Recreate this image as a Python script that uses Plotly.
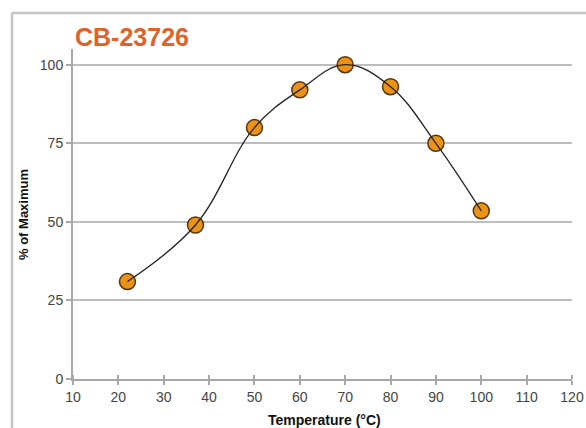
import plotly.graph_objects as go

temperature = [22, 37, 50, 60, 70, 80, 90, 100]
pct_max = [31, 49, 80, 92, 100, 93, 75, 53.5]
x_ticks = [10, 20, 30, 40, 50, 60, 70, 80, 90, 100, 110, 120]
y_ticks = [0, 25, 50, 75, 100]

W, H = 586, 428
L, T = 73, 49
R = W - 572
B = H - 379
PW, PH = W - L - R, H - T - B

fig = go.Figure()
fig.add_trace(go.Scatter(
    x=temperature, y=pct_max, mode="markers",
    marker=dict(size=16, color="#EC9214", line=dict(color="#553510", width=1.5)),
    showlegend=False, hoverinfo="skip"))
fig.add_trace(go.Scatter(
    x=temperature, y=pct_max, mode="lines",
    line=dict(color="#222222", width=1.3, shape="spline", smoothing=1.1),
    showlegend=False))

fnt = "Liberation Sans, Arial, sans-serif"
fig.update_layout(
    width=W, height=H,
    margin=dict(l=L, r=R, t=T, b=B),
    paper_bgcolor="white", plot_bgcolor="white",
    font=dict(family=fnt, color="#444444", size=14),
    title=dict(text="<b>CB-23726</b>", x=75 / W, xanchor="left", y=1 - 37 / H,
               yanchor="middle", font=dict(size=25, color="#E0622A", family=fnt)),
    xaxis=dict(range=[10, 120], tickvals=x_ticks, showgrid=False, zeroline=False, automargin=False,
               showline=True, linecolor="#a8a8a8", linewidth=2,
               ticks="outside", ticklen=4, tickcolor="#a8a8a8", tickwidth=1.5,
               minor=dict(ticks="inside", ticklen=4, tickcolor="#a8a8a8", tickwidth=1.5,
                          tick0=10, dtick=10, showgrid=False),
               tickfont=dict(size=14, color="#444444")),
    yaxis=dict(range=[0, 105], tickvals=y_ticks, showgrid=True, gridcolor="#bdbdbd", gridwidth=2,
               zeroline=False, showline=True, linecolor="#a8a8a8", linewidth=2, automargin=False,
               ticks="outside", ticklen=5, tickcolor="#a8a8a8", tickwidth=1.5,
               tickfont=dict(size=14, color="#444444")),
)

fig.add_annotation(text="<b>Temperature (°C)</b>", xref="paper", yref="paper",
                   x=(324 - L) / PW, y=-(420 - 379) / PH, showarrow=False,
                   xanchor="center", yanchor="middle", font=dict(size=14, color="#111111", family=fnt))
fig.add_annotation(text="<b>% of Maximum</b>", xref="paper", yref="paper",
                   x=(23 - L) / PW, y=1 - (215 - T) / PH, showarrow=False, textangle=-90,
                   xanchor="center", yanchor="middle", font=dict(size=13, color="#111111", family=fnt))

# outer frame (top and left edges of the chart panel)
fy = 1 + (T - 13) / PH
fx = (12 - L) / PW
fig.add_shape(type="line", xref="paper", yref="paper", x0=fx, x1=1.1, y0=fy, y1=fy,
              line=dict(color="#c4c4c4", width=2.5))
fig.add_shape(type="line", xref="paper", yref="paper", x0=fx, x1=fx, y0=fy, y1=-0.2,
              line=dict(color="#c4c4c4", width=2.5))

fig.write_html("out.html", config={"displayModeBar": False},
               post_script="document.body.style.margin='0';document.body.style.overflow='hidden';")
